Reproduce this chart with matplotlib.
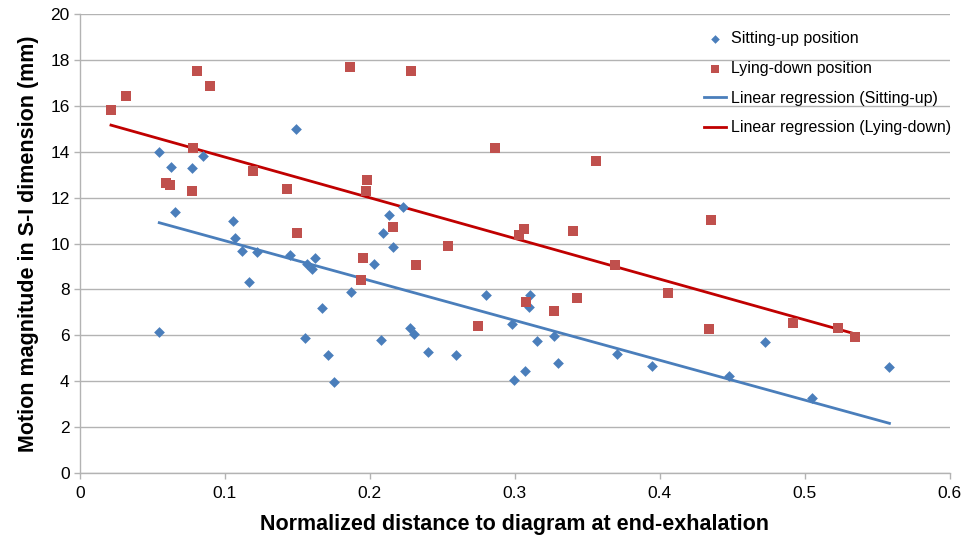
import numpy as np
import matplotlib
matplotlib.use('Agg')
import matplotlib.pyplot as plt

plt.rcParams['font.family'] = ['Liberation Sans', 'DejaVu Sans']

# Sitting-up position (blue diamonds)
sit_x = [0.0547, 0.0625, 0.0772, 0.0851, 0.0653, 0.1053, 0.1069, 0.1119, 0.1218,
         0.1163, 0.1451, 0.1563, 0.1487, 0.0547, 0.1550, 0.2225, 0.2129, 0.2087,
         0.2161, 0.2025, 0.1623, 0.1602, 0.1869, 0.1667, 0.2800, 0.3103, 0.1713,
         0.1752, 0.2074, 0.2278, 0.2306, 0.2400, 0.2595, 0.2977, 0.2995, 0.3069,
         0.3097, 0.3154, 0.3271, 0.3299, 0.3708, 0.3945, 0.4478, 0.4724, 0.5053,
         0.5584]
sit_y = [13.98, 13.34, 13.31, 13.81, 11.38, 10.98, 10.23, 9.69, 9.61,
         8.31, 9.50, 9.10, 15.00, 6.14, 5.87, 11.59, 11.26, 10.45,
         9.86, 9.12, 9.37, 8.90, 7.87, 7.20, 7.74, 7.74, 5.13,
         3.95, 5.79, 6.30, 6.03, 5.26, 5.12, 6.47, 4.05, 4.42,
         7.21, 5.73, 5.96, 4.77, 5.16, 4.65, 4.23, 5.70, 3.27,
         4.59]

# Lying-down position (red squares)
lie_x = [0.0214, 0.0317, 0.0809, 0.0897, 0.0779, 0.0595, 0.0621, 0.0772, 0.1193,
         0.1428, 0.1497, 0.1862, 0.2283, 0.2864, 0.1982, 0.1972, 0.2161, 0.2536,
         0.1952, 0.2317, 0.1938, 0.3062, 0.3028, 0.3078, 0.2745, 0.3561, 0.4354,
         0.3400, 0.3694, 0.3428, 0.3269, 0.4053, 0.4340, 0.4919, 0.5232, 0.5347]
lie_y = [15.83, 16.46, 17.53, 16.89, 14.18, 12.63, 12.55, 12.31, 13.18,
         12.37, 10.45, 17.72, 17.53, 14.16, 12.79, 12.28, 10.71, 9.89,
         9.35, 9.05, 8.39, 10.62, 10.37, 7.43, 6.41, 13.62, 11.04,
         10.56, 9.07, 7.62, 7.04, 7.83, 6.28, 6.54, 6.31, 5.93]

# regression coefficients (slope, intercept)
sit_fit = (-17.39, 11.86)
lie_fit = (-17.76, 15.55)

blue = '#4a7ebb'
red = '#c0504d'
red_line = '#c00000'
grid_col = '#b3b3b3'

fig = plt.figure(figsize=(9.74, 5.37), dpi=100)
ax = fig.add_axes([0.0821, 0.12, 0.893, 0.853])

ax.scatter(sit_x, sit_y, marker='D', s=30, color=blue, linewidths=0,
           label='Sitting-up position', zorder=3)
ax.scatter(lie_x, lie_y, marker='s', s=48, color=red, linewidths=0,
           label='Lying-down position', zorder=3)

xs = np.array([min(sit_x), max(sit_x)])
ax.plot(xs, sit_fit[0] * xs + sit_fit[1], color=blue, lw=2,
        label='Linear regression (Sitting-up)', zorder=2)
xl = np.array([min(lie_x), max(lie_x)])
ax.plot(xl, lie_fit[0] * xl + lie_fit[1], color=red_line, lw=2,
        label='Linear regression (Lying-down)', zorder=2)

ax.set_xlim(0, 0.6)
ax.set_ylim(0, 20)
ax.set_xticks(np.arange(0, 0.61, 0.1))
ax.set_xticklabels(['0', '0.1', '0.2', '0.3', '0.4', '0.5', '0.6'])
ax.set_yticks(np.arange(0, 21, 2))
ax.yaxis.grid(True, color=grid_col, lw=1)
ax.set_axisbelow(True)
for s in ['top', 'right']:
    ax.spines[s].set_visible(False)
for s in ['left', 'bottom']:
    ax.spines[s].set_color(grid_col)
    ax.spines[s].set_linewidth(1)
ax.tick_params(axis='both', colors=grid_col, labelcolor='black', labelsize=12.5,
               length=4, width=1)
ax.tick_params(axis='x', pad=6)

ax.set_xlabel('Normalized distance to diagram at end-exhalation',
              fontsize=15.5, fontweight='bold', labelpad=9)
ax.set_ylabel('Motion magnitude in S-I dimension (mm)',
              fontsize=15.5, fontweight='bold', labelpad=8)

leg = ax.legend(loc='upper right', bbox_to_anchor=(1.018, 0.995), frameon=False,
                fontsize=11.5, handlelength=1.4, handletextpad=0.3,
                labelspacing=0.92, markerscale=0.8)

fig.savefig('out.png', dpi=100)
